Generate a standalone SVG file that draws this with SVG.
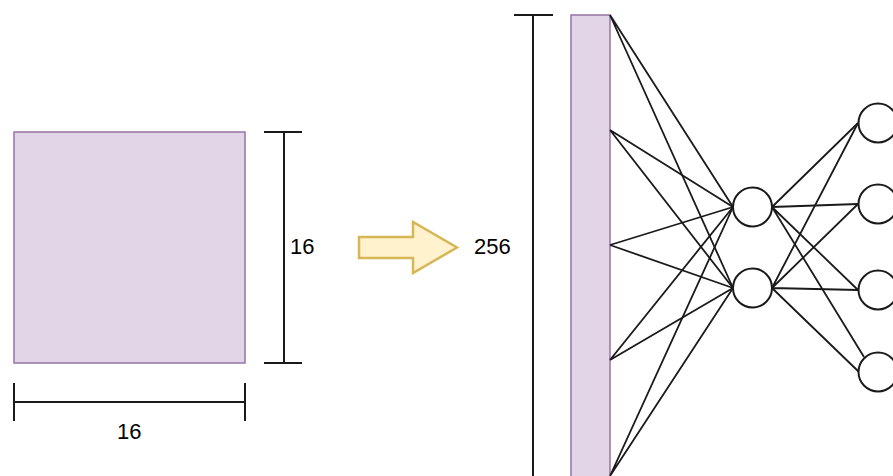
<svg xmlns="http://www.w3.org/2000/svg" width="893" height="476" viewBox="0 0 893 476">
  <style>
    .box { fill: #e1d5e7; stroke: #9673a6; stroke-width: 1.5; }
    .dim { fill: none; stroke: #1a1a1a; stroke-width: 2; }
    .neuron { fill: #ffffff; stroke: #1a1a1a; stroke-width: 2; }
    .edge { fill: none; stroke: #1a1a1a; stroke-width: 1.8; }
    .label { font-family: "Liberation Sans", Arial, sans-serif; font-size: 22px; fill: #000000; }
  </style>

  <!-- 16x16 input image -->
  <g id="image">
    <rect class="box" x="14" y="132" width="231" height="231"/>
  </g>
  <g id="dim-height">
    <path class="dim" d="M284 132 V363 M264 132 H302 M264 363 H302"/>
    <text class="label" x="290" y="254">16</text>
  </g>
  <g id="dim-width">
    <path class="dim" d="M14 402 H245 M14 383 V421 M245 383 V421"/>
    <text class="label" x="117" y="439">16</text>
  </g>

  <!-- flatten arrow -->
  <g id="arrow">
    <path d="M359 237 H413 V222 L457 247.5 L413 273 V258 H359 Z" fill="#fff2cc" stroke="#d6b656" stroke-width="2.5" stroke-linejoin="miter"/>
  </g>

  <!-- flattened 256 vector -->
  <g id="dim-256">
    <path class="dim" d="M533 15 V476 M514 15 H553"/>
    <text class="label" x="474" y="254">256</text>
  </g>
  <g id="vector">
    <rect class="box" x="571" y="15" width="39" height="470"/>
  </g>

  <!-- connections -->
  <g id="connectors">
    <path class="edge" d="M610 15 L733 207 M610 15 L733 288"/>
    <path class="edge" d="M610 130 L733 207 M610 130 L733 288"/>
    <path class="edge" d="M610 245 L733 207 M610 245 L733 288"/>
    <path class="edge" d="M610 360 L733 207 M610 360 L733 288"/>
    <path class="edge" d="M610 476 L733 207 M610 476 L733 288"/>
    <path class="edge" d="M772 207 L858 123 M772 207 L858 204 M772 207 L858 290 M772 207 L864 357"/>
    <path class="edge" d="M772 288 L858 123 M772 288 L858 204 M772 288 L858 290 M772 288 L859 372"/>
  </g>

  <!-- hidden layer -->
  <g id="hidden-1"><circle class="neuron" cx="752.5" cy="207" r="19.5"/></g>
  <g id="hidden-2"><circle class="neuron" cx="752.5" cy="288" r="19.5"/></g>

  <!-- output layer -->
  <g id="output-1"><circle class="neuron" cx="878" cy="123" r="19.5"/></g>
  <g id="output-2"><circle class="neuron" cx="878" cy="204" r="19.5"/></g>
  <g id="output-3"><circle class="neuron" cx="878" cy="290" r="19.5"/></g>
  <g id="output-4"><circle class="neuron" cx="878" cy="372" r="19.5"/></g>
</svg>
